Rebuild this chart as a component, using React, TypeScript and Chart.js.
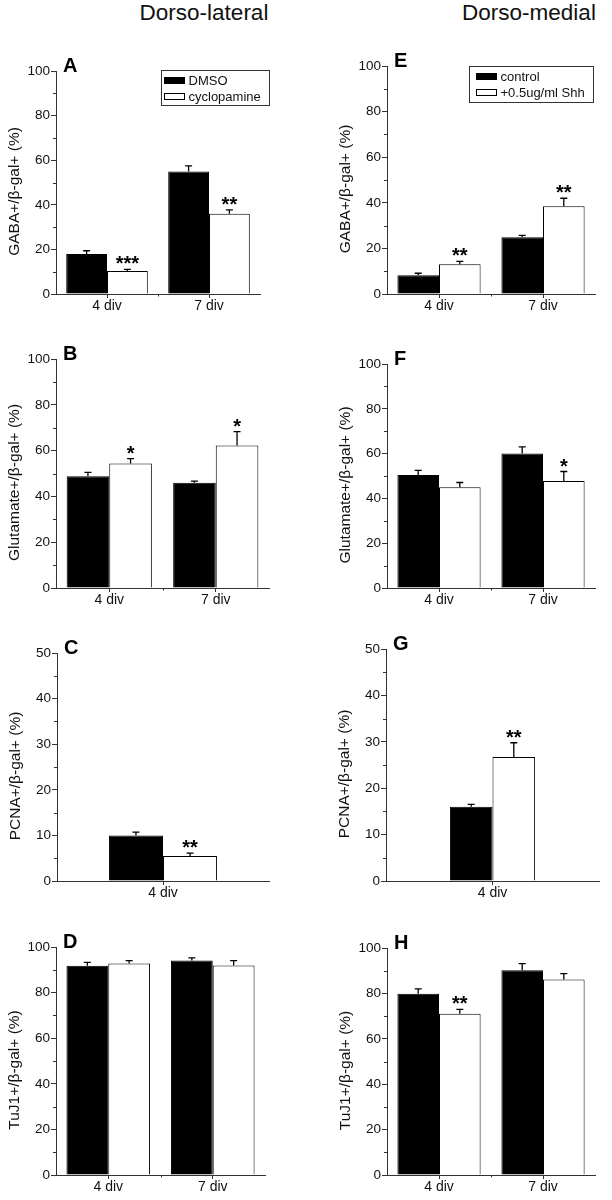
import React, { useEffect, useRef } from 'react';
import { Chart, registerables } from 'chart.js';

Chart.register(...registerables);

const FONT = '"Liberation Sans", Arial, Helvetica, sans-serif';
const AXIS = '#333';
const INK = '#111';

// ---------------- Data ----------------
const divBoth = ['4 div', '7 div'];
const divFour = ['4 div'];

const lateralLegend = ['DMSO', 'cyclopamine'];
const medialLegend = ['control', '+0.5ug/ml Shh'];

const columnTitles = ['Dorso-lateral', 'Dorso-medial'];

const yTitleGaba = 'GABA+/β-gal+ (%)';
const yTitleGlu = 'Glutamate+/β-gal+ (%)';
const yTitlePcna = 'PCNA+/β-gal+ (%)';
const yTitleTuj = 'TuJ1+/β-gal+ (%)';

// A: GABA, dorso-lateral
const gabaDmso = [17.9, 54.9];
const gabaDmsoErr = [1.5, 2.6];
const gabaCyclo = [10.3, 36.0];
const gabaCycloErr = [0.7, 1.7];
const gabaCycloSig = ['***', '**'];

// B: Glutamate, dorso-lateral
const gluDmso = [48.8, 46.0];
const gluDmsoErr = [1.7, 0.7];
const gluCyclo = [54.4, 62.2];
const gluCycloErr = [2.1, 6.1];
const gluCycloSig = ['*', '*'];

// C: PCNA, dorso-lateral
const pcnaDmso = [10.0];
const pcnaDmsoErr = [0.7];
const pcnaCyclo = [5.5];
const pcnaCycloErr = [0.6];
const pcnaCycloSig = ['**'];

// D: TuJ1, dorso-lateral
const tujDmso = [91.8, 94.1];
const tujDmsoErr = [1.5, 1.1];
const tujCyclo = [92.8, 91.9];
const tujCycloErr = [1.2, 2.1];
const tujCycloSig = ['', ''];

// E: GABA, dorso-medial
const gabaCtrl = [8.2, 24.9];
const gabaCtrlErr = [0.9, 0.8];
const gabaShh = [13.0, 38.5];
const gabaShhErr = [1.3, 3.5];
const gabaShhSig = ['**', '**'];

// F: Glutamate, dorso-medial
const gluCtrl = [50.4, 60.1];
const gluCtrlErr = [2.1, 2.9];
const gluShh = [45.0, 47.8];
const gluShhErr = [2.1, 4.2];
const gluShhSig = ['', '*'];

// G: PCNA, dorso-medial
const pcnaCtrl = [16.0];
const pcnaCtrlErr = [0.5];
const pcnaShh = [26.7];
const pcnaShhErr = [3.1];
const pcnaShhSig = ['**'];

// H: TuJ1, dorso-medial
const tujCtrl = [79.9, 90.2];
const tujCtrlErr = [2.1, 2.9];
const tujShh = [71.0, 86.1];
const tujShhErr = [2.0, 2.6];
const tujShhSig = ['**', ''];

const noSig = ['', ''];

// ---------------- Layout ----------------
type Series = { label: string; values: number[]; errors: number[]; sig: string[]; fill: string };
type Box = { left: number; top: number; right: number; bottom: number };
type Panel = {
  letter: string;
  yTitle: string;
  categories: string[];
  yMax: number;
  yStep: number;
  catPct: number;
  series: Series[];
  canvas: { left: number; top: number; width: number; height: number };
  area: Box;
  legend?: { dx: number; dy: number; w: number; h: number; pad: number };
};

const ROWS = [
  [30, 318],
  [318, 612],
  [612, 905],
  [905, 1200],
];
const cv = (col: number, row: number) => ({
  left: col * 306,
  top: ROWS[row][0],
  width: 306,
  height: ROWS[row][1] - ROWS[row][0],
});

const mk = (label: string, values: number[], errors: number[], sig: string[], fill: string): Series => ({
  label,
  values,
  errors,
  sig,
  fill,
});

const panels: Panel[] = [
  {
    letter: 'A', yTitle: yTitleGaba, categories: divBoth, yMax: 100, yStep: 20, catPct: 0.8,
    series: [
      mk(lateralLegend[0], gabaDmso, gabaDmsoErr, noSig, '#000'),
      mk(lateralLegend[1], gabaCyclo, gabaCycloErr, gabaCycloSig, '#fff'),
    ],
    canvas: cv(0, 0), area: { left: 56, top: 71, right: 260, bottom: 294 },
    legend: { dx: 105, dy: -1, w: 108, h: 35, pad: 3 },
  },
  {
    letter: 'B', yTitle: yTitleGlu, categories: divBoth, yMax: 100, yStep: 20, catPct: 0.8,
    series: [
      mk(lateralLegend[0], gluDmso, gluDmsoErr, noSig, '#000'),
      mk(lateralLegend[1], gluCyclo, gluCycloErr, gluCycloSig, '#fff'),
    ],
    canvas: cv(0, 1), area: { left: 56, top: 359, right: 269, bottom: 588 },
  },
  {
    letter: 'C', yTitle: yTitlePcna, categories: divFour, yMax: 50, yStep: 10, catPct: 0.51,
    series: [
      mk(lateralLegend[0], pcnaDmso, pcnaDmsoErr, noSig, '#000'),
      mk(lateralLegend[1], pcnaCyclo, pcnaCycloErr, pcnaCycloSig, '#fff'),
    ],
    canvas: cv(0, 2), area: { left: 57, top: 653, right: 269, bottom: 881 },
  },
  {
    letter: 'D', yTitle: yTitleTuj, categories: divBoth, yMax: 100, yStep: 20, catPct: 0.8,
    series: [
      mk(lateralLegend[0], tujDmso, tujDmsoErr, noSig, '#000'),
      mk(lateralLegend[1], tujCyclo, tujCycloErr, tujCycloSig, '#fff'),
    ],
    canvas: cv(0, 3), area: { left: 56, top: 947, right: 265, bottom: 1175 },
  },
  {
    letter: 'E', yTitle: yTitleGaba, categories: divBoth, yMax: 100, yStep: 20, catPct: 0.8,
    series: [
      mk(medialLegend[0], gabaCtrl, gabaCtrlErr, noSig, '#000'),
      mk(medialLegend[1], gabaShh, gabaShhErr, gabaShhSig, '#fff'),
    ],
    canvas: cv(1, 0), area: { left: 387, top: 66, right: 595, bottom: 294 },
    legend: { dx: 82, dy: 0, w: 124, h: 36, pad: 7 },
  },
  {
    letter: 'F', yTitle: yTitleGlu, categories: divBoth, yMax: 100, yStep: 20, catPct: 0.8,
    series: [
      mk(medialLegend[0], gluCtrl, gluCtrlErr, noSig, '#000'),
      mk(medialLegend[1], gluShh, gluShhErr, gluShhSig, '#fff'),
    ],
    canvas: cv(1, 1), area: { left: 387, top: 364, right: 595, bottom: 588 },
  },
  {
    letter: 'G', yTitle: yTitlePcna, categories: divFour, yMax: 50, yStep: 10, catPct: 0.4,
    series: [
      mk(medialLegend[0], pcnaCtrl, pcnaCtrlErr, noSig, '#000'),
      mk(medialLegend[1], pcnaShh, pcnaShhErr, pcnaShhSig, '#fff'),
    ],
    canvas: cv(1, 2), area: { left: 386, top: 649, right: 599, bottom: 881 },
  },
  {
    letter: 'H', yTitle: yTitleTuj, categories: divBoth, yMax: 100, yStep: 20, catPct: 0.8,
    series: [
      mk(medialLegend[0], tujCtrl, tujCtrlErr, noSig, '#000'),
      mk(medialLegend[1], tujShh, tujShhErr, tujShhSig, '#fff'),
    ],
    canvas: cv(1, 3), area: { left: 387, top: 948, right: 595, bottom: 1175 },
  },
];

function PanelChart({ panel }: { panel: Panel }) {
  const ref = useRef<HTMLCanvasElement>(null);
  const { canvas: box, area } = panel;

  useEffect(() => {
    const el = ref.current;
    if (!el) return;

    const decor = {
      id: 'panelDecor' + panel.letter,
      afterDatasetsDraw(chart: any) {
        const ctx = chart.ctx as CanvasRenderingContext2D;
        const ys = chart.scales.y;
        const xs = chart.scales.x;
        const ca = chart.chartArea;
        ctx.save();
        // redraw x axis line on top of bars
        ctx.strokeStyle = AXIS;
        ctx.lineWidth = 1;
        ctx.beginPath();
        ctx.moveTo(ca.left - 3, Math.round(ca.bottom) + 0.5);
        ctx.lineTo(ca.right, Math.round(ca.bottom) + 0.5);
        ctx.stroke();
        // error bars + significance
        panel.series.forEach((s, di) => {
          const meta = chart.getDatasetMeta(di);
          meta.data.forEach((bar: any, i: number) => {
            const x = bar.x;
            const top = bar.y;
            const yErr = ys.getPixelForValue(s.values[i] + s.errors[i]);
            ctx.strokeStyle = '#000';
            ctx.lineWidth = 1.3;
            ctx.beginPath();
            ctx.moveTo(x, top);
            ctx.lineTo(x, yErr);
            ctx.moveTo(x - 3.5, yErr);
            ctx.lineTo(x + 3.5, yErr);
            ctx.stroke();
            const sig = s.sig[i];
            if (sig) {
              ctx.fillStyle = '#000';
              ctx.font = `bold 20px ${FONT}`;
              ctx.textAlign = 'center';
              ctx.textBaseline = 'alphabetic';
              ctx.fillText(sig, x, yErr + 1);
            }
          });
        });
        // minor y ticks
        ctx.strokeStyle = AXIS;
        ctx.lineWidth = 1;
        ctx.beginPath();
        for (let v = panel.yStep / 2; v < panel.yMax; v += panel.yStep) {
          const y = Math.round(ys.getPixelForValue(v)) + 0.5;
          ctx.moveTo(ca.left - 3, y);
          ctx.lineTo(ca.left, y);
        }
        // minor x ticks at category boundaries
        for (let i = 1; i < panel.categories.length; i++) {
          const x = Math.round((xs.getPixelForValue(i - 1) + xs.getPixelForValue(i)) / 2) + 0.5;
          ctx.moveTo(x, ca.bottom);
          ctx.lineTo(x, ca.bottom + 2.5);
        }
        ctx.stroke();
        // y title
        ctx.save();
        ctx.translate(ca.left - 41, (ca.top + ca.bottom) / 2 + 9);
        ctx.rotate(-Math.PI / 2);
        ctx.fillStyle = INK;
        ctx.font = `15.5px ${FONT}`;
        ctx.textAlign = 'center';
        ctx.textBaseline = 'middle';
        ctx.fillText(panel.yTitle, 0, 0);
        ctx.restore();
        // panel letter
        ctx.fillStyle = '#000';
        ctx.font = `bold 20px ${FONT}`;
        ctx.textAlign = 'left';
        ctx.textBaseline = 'alphabetic';
        ctx.fillText(panel.letter, ca.left + 7, ca.top + 1);
        // legend
        const lg = panel.legend;
        if (lg) {
          const lx = Math.round(ca.left + lg.dx) + 0.5;
          const ly = Math.round(ca.top + lg.dy) + 0.5;
          ctx.strokeStyle = AXIS;
          ctx.lineWidth = 1;
          ctx.strokeRect(lx, ly, lg.w, lg.h);
          ctx.font = `13px ${FONT}`;
          ctx.textAlign = 'left';
          ctx.textBaseline = 'alphabetic';
          panel.series.forEach((s, k) => {
            const sy = ly + 7 + k * 16;
            ctx.fillStyle = s.fill;
            ctx.fillRect(lx + lg.pad, sy, 20, 6);
            ctx.strokeStyle = '#000';
            ctx.strokeRect(lx + lg.pad, sy, 20, 6);
            ctx.fillStyle = INK;
            ctx.fillText(s.label, lx + lg.pad + 24, ly + 14 + k * 16);
          });
        }
        ctx.restore();
      },
    };

    const chart = new Chart(el, {
      type: 'bar',
      data: {
        labels: panel.categories,
        datasets: panel.series.map((s) => ({
          label: s.label,
          data: s.values,
          backgroundColor: s.fill,
          borderColor: '#000',
          borderWidth: 1,
          categoryPercentage: panel.catPct,
          barPercentage: 1,
        })),
      },
      options: {
        responsive: false,
        maintainAspectRatio: false,
        animation: false,
        devicePixelRatio: 1,
        layout: {
          padding: {
            left: 0,
            top: area.top - box.top,
            right: box.left + box.width - area.right,
            bottom: 0,
          },
        },
        plugins: {
          legend: { display: false },
          tooltip: { enabled: false },
          title: { display: false },
        },
        scales: {
          x: {
            type: 'category',
            offset: true,
            grid: {
              display: true,
              drawOnChartArea: false,
              drawTicks: true,
              offset: false,
              tickLength: 4,
              color: AXIS,
            },
            border: { display: true, color: AXIS, width: 1 },
            ticks: {
              color: INK,
              font: { family: FONT, size: 14 },
              padding: 0,
              maxRotation: 0,
              autoSkip: false,
            },
            afterFit: (s: any) => {
              s.height = box.top + box.height - area.bottom;
            },
          },
          y: {
            type: 'linear',
            min: 0,
            max: panel.yMax,
            grid: {
              display: true,
              drawOnChartArea: false,
              drawTicks: true,
              tickLength: 5,
              color: AXIS,
            },
            border: { display: true, color: AXIS, width: 1 },
            ticks: {
              stepSize: panel.yStep,
              color: INK,
              font: { family: FONT, size: 13.5 },
              padding: 1,
            },
            afterFit: (s: any) => {
              s.width = area.left - box.left;
            },
          },
        },
      },
      plugins: [decor],
    } as any);

    return () => chart.destroy();
  }, [panel]);

  return (
    <canvas
      ref={ref}
      width={box.width}
      height={box.height}
      style={{ position: 'absolute', left: box.left, top: box.top, width: box.width, height: box.height }}
    />
  );
}

export default function App() {
  return (
    <div
      style={{
        position: 'absolute',
        left: 0,
        top: 0,
        width: 612,
        height: 1200,
        background: '#fff',
        overflow: 'hidden',
      }}
    >
      {columnTitles.map((t, i) => (
        <div
          key={t}
          style={{
            position: 'absolute',
            left: i === 0 ? 104 : 429,
            width: 200,
            top: 2,
            textAlign: 'center',
            fontFamily: FONT,
            fontSize: 22.5,
            lineHeight: '22.5px',
            color: INK,
          }}
        >
          {t}
        </div>
      ))}
      {panels.map((p) => (
        <PanelChart key={p.letter} panel={p} />
      ))}
    </div>
  );
}
